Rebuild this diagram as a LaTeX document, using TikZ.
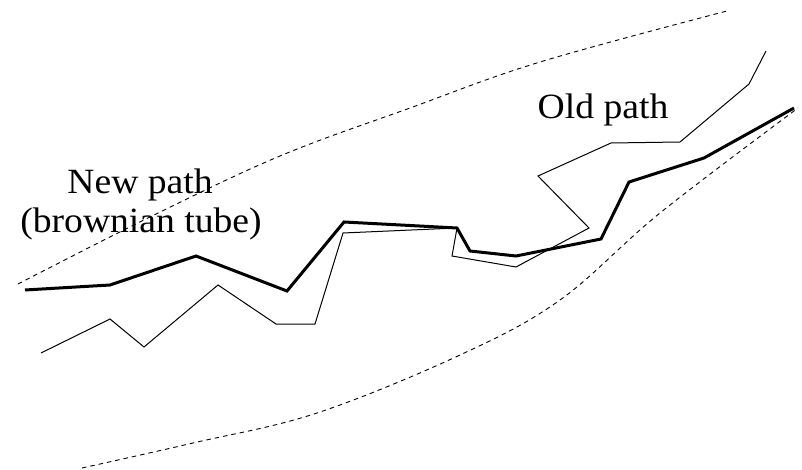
\documentclass[tikz,border=0pt]{standalone}
\usepackage{fontspec}
\setmainfont{Liberation Serif}
\begin{document}
\begin{tikzpicture}[x=1pt,y=-1pt,
  oldp/.style={line width=1pt,line join=miter},
  newp/.style={line width=3pt,line join=miter},
  tube/.style={line width=0.9pt,dash pattern=on 4.5pt off 4pt},
  lbl/.style={anchor=base,inner sep=0pt,xscale=1.06,font=\fontsize{35.5}{39}\selectfont}]
\useasboundingbox (0,0) rectangle (802,470);
% brownian tube borders
\draw[tube] plot[smooth,tension=0.6] coordinates {(18,284) (150,217) (280,156) (410,108) (540,62) (727,11)};
\draw[tube] plot[smooth,tension=0.6] coordinates {(82,468) (193,443) (317,413) (460,355) (560,300) (660,213) (798,108)};
% old path
\draw[oldp] (41,353) -- (110,319) -- (144,347) -- (218,285) -- (276,324) -- (315,324) -- (343,233) -- (457,228) -- (452,256) -- (516,267) -- (589,228) -- (538,176) -- (611,143) -- (680,142) -- (749,84) -- (766,51);
% new path
\draw[newp] (25,290) -- (110,285) -- (196,256) -- (287,291) -- (344,222) -- (457,228) -- (470,251) -- (516,256) -- (601,239) -- (629,182) -- (704,158) -- (794,108);
% labels
\node[lbl] (new1) at (140,194) {New path};
\node[lbl] (new2) at (141,233) {(brownian tube)};
\node[lbl] (old) at (603,119) {Old path};
\end{tikzpicture}
\end{document}
